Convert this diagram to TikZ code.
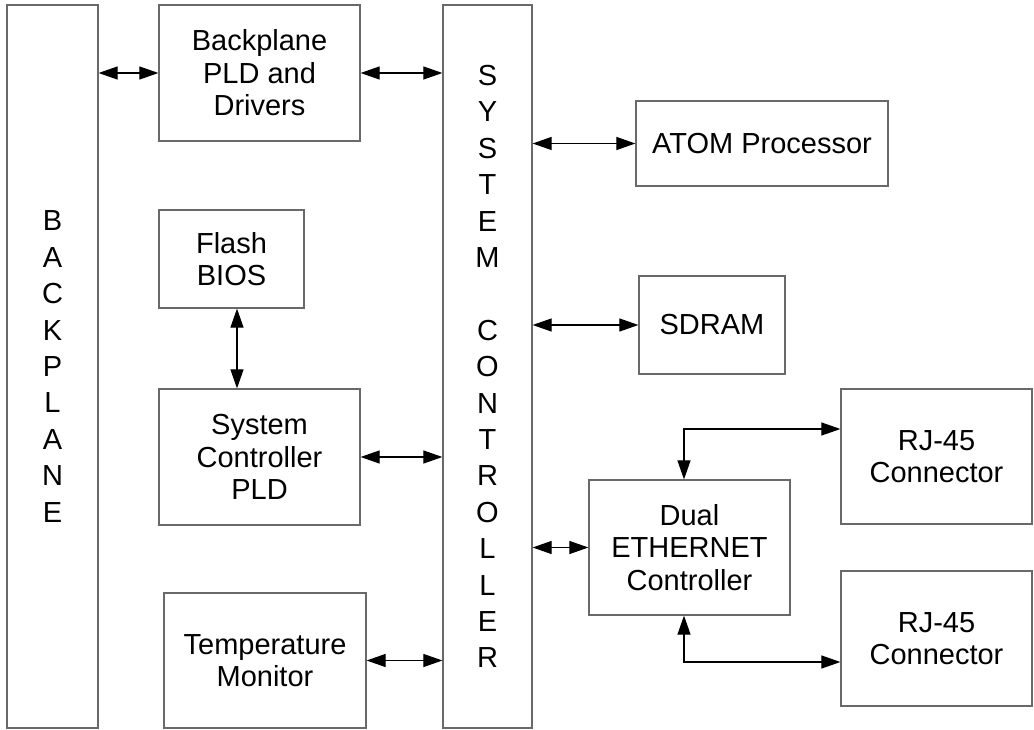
\documentclass[tikz,border=0pt]{standalone}
\usepackage{fontspec}
\setmainfont{Liberation Sans}
\usetikzlibrary{arrows.meta}
\definecolor{boxgray}{RGB}{105,105,105}
\begin{document}
\begin{tikzpicture}[x=1pt,y=-1pt,
  blk/.style={draw=boxgray, line width=1.2pt, rectangle, inner sep=0pt, align=center,
    font=\fontsize{29}{32.5}\selectfont},
  tall/.style={blk, font=\fontsize{29}{36.4}\selectfont},
  arr/.style={draw=black, line width=1.1pt, {Triangle[length=19pt,width=13pt]}-{Triangle[length=19pt,width=13pt]}}
]
\useasboundingbox (0,0) rectangle (1034,730);
\node[tall, minimum width=91pt, minimum height=723pt] (BP) at (52.5,366.5)
  {B\\A\\C\\K\\P\\L\\A\\N\\E};
\node[tall, minimum width=89pt, minimum height=723pt] (SC) at (487.5,366.5)
  {S\\Y\\S\\T\\E\\M\\\mbox{}\\C\\O\\N\\T\\R\\O\\L\\L\\E\\R};
\node[blk, minimum width=201pt, minimum height=136pt] (PLD) at (259.5,73) {Backplane\\PLD and\\Drivers};
\node[blk, minimum width=252pt, minimum height=85pt] (ATOM) at (762,143.5) {ATOM Processor};
\node[blk, minimum width=145pt, minimum height=98pt] (FL) at (231.5,259) {Flash\\BIOS};
\node[blk, minimum width=146pt, minimum height=98pt] (SD) at (712,325) {SDRAM};
\node[blk, minimum width=201pt, minimum height=136pt] (SPLD) at (259.5,457) {System\\Controller\\PLD};
\node[blk, minimum width=191pt, minimum height=135pt] (RJ1) at (936.5,456.5) {RJ-45\\Connector};
\node[blk, minimum width=201pt, minimum height=135pt] (ETH) at (689.5,547.5) {Dual\\ETHERNET\\Controller};
\node[blk, minimum width=191pt, minimum height=135pt] (RJ2) at (936.5,638.5) {RJ-45\\Connector};
\node[blk, minimum width=202pt, minimum height=135pt] (TM) at (265,660.5) {Temperature\\Monitor};

\coordinate (fx) at (237,0);
\coordinate (t1) at (684,429);
\coordinate (t2) at (684,662);

\draw[arr] (PLD.west -| BP.east) -- (PLD.west);
\draw[arr] (PLD.east) -- (PLD.east -| SC.west);
\draw[arr] (ATOM.west -| SC.east) -- (ATOM.west);
\draw[arr] (fx |- FL.south) -- (fx |- SPLD.north);
\draw[arr] (SPLD.east) -- (SPLD.east -| SC.west);
\draw[arr] (SD.west -| SC.east) -- (SD.west);
\draw[arr] (ETH.west -| SC.east) -- (ETH.west);
\draw[arr] (TM.east) -- (TM.east -| SC.west);
\draw[arr] (t1 |- ETH.north) -- (t1) -- (t1 -| RJ1.west);
\draw[arr] (t2 |- ETH.south) -- (t2) -- (t2 -| RJ2.west);
\end{tikzpicture}
\end{document}
